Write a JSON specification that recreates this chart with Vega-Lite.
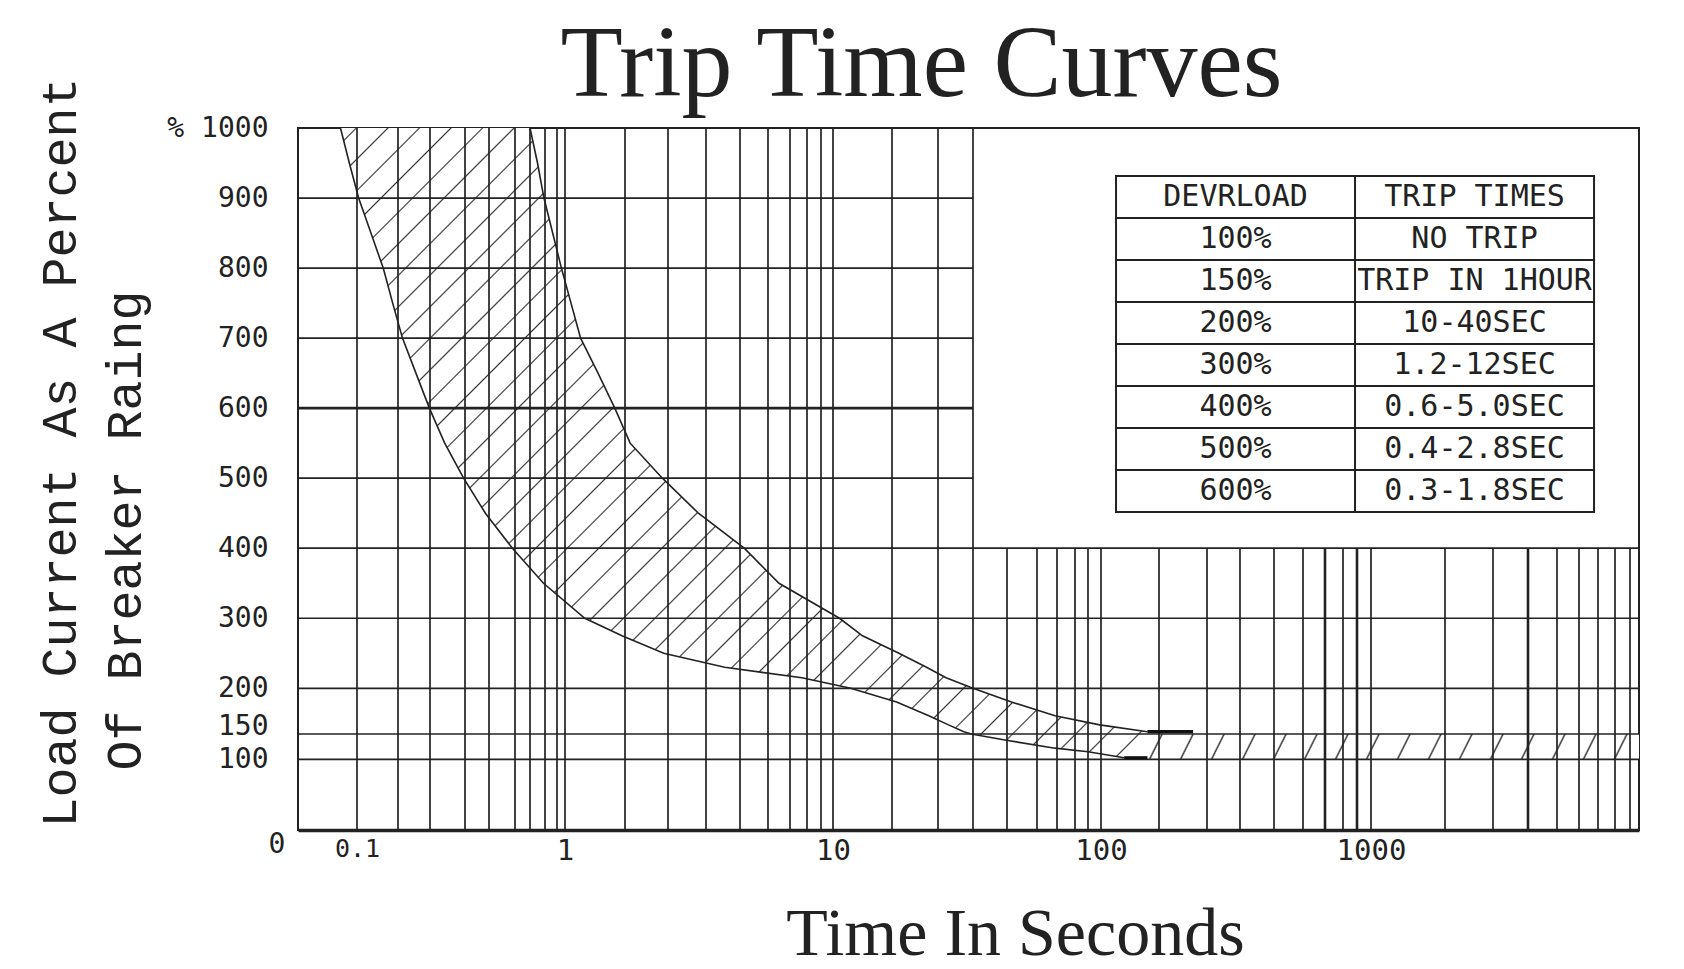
{
"$schema": "https://vega.github.io/schema/vega-lite/v6.json",
"width": 1341,
"height": 702,
"autosize": {"type": "none"},
"padding": {"left": 298, "top": 128, "right": 45, "bottom": 139},
"background": "#ffffff",
"title": {"text": "Trip Time Curves", "font": "Liberation Serif", "fontSize": 102, "fontWeight": "normal", "color": "#222222", "anchor": "middle", "frame": "group", "dx": -47, "baseline": "alphabetic", "offset": -121},
"config": {
  "view": {"stroke": "#222222", "strokeWidth": 2},
  "axis": {"grid": false, "ticks": false, "tickSize": 0, "domain": false, "labelColor": "#222222", "titleColor": "#222222", "titleFontWeight": "normal", "labelFont": "DejaVu Sans Mono", "labelFlush": false, "labelOverlap": false}
},
"datasets": {
  "vgrid": [
    {"t":0.1,"lo":0,"hi":1000},{"t":0.2,"lo":0,"hi":1000},{"t":0.3,"lo":0,"hi":1000},{"t":0.4,"lo":0,"hi":1000},{"t":0.5,"lo":0,"hi":1000},{"t":0.6,"lo":0,"hi":1000},{"t":0.7,"lo":0,"hi":1000},{"t":0.8,"lo":0,"hi":1000},{"t":0.9,"lo":0,"hi":1000},
    {"t":1,"lo":0,"hi":1000},{"t":2,"lo":0,"hi":1000},{"t":3,"lo":0,"hi":1000},{"t":4,"lo":0,"hi":1000},{"t":5,"lo":0,"hi":1000},{"t":6,"lo":0,"hi":1000},{"t":7,"lo":0,"hi":1000},{"t":8,"lo":0,"hi":1000},{"t":9,"lo":0,"hi":1000},
    {"t":10,"lo":0,"hi":1000},{"t":20,"lo":0,"hi":1000},{"t":30,"lo":0,"hi":1000},{"t":40,"lo":0,"hi":1000},{"t":50,"lo":0,"hi":400},{"t":60,"lo":0,"hi":400},{"t":70,"lo":0,"hi":400},{"t":80,"lo":0,"hi":400},{"t":90,"lo":0,"hi":400},
    {"t":100,"lo":0,"hi":400},{"t":200,"lo":0,"hi":400},{"t":300,"lo":0,"hi":400},{"t":400,"lo":0,"hi":400},{"t":500,"lo":0,"hi":400},{"t":600,"lo":0,"hi":400},{"t":700,"lo":0,"hi":400},{"t":800,"lo":0,"hi":400},{"t":900,"lo":0,"hi":400},
    {"t":1000,"lo":0,"hi":400},{"t":2000,"lo":0,"hi":400},{"t":3000,"lo":0,"hi":400},{"t":4000,"lo":0,"hi":400},{"t":5000,"lo":0,"hi":400},{"t":6000,"lo":0,"hi":400},{"t":7000,"lo":0,"hi":400},{"t":8000,"lo":0,"hi":400},{"t":9000,"lo":0,"hi":400}
  ],
  "hgrid": [
    {"load":100,"from":0,"to":10000},{"load":150,"from":0,"to":10000},{"load":200,"from":0,"to":10000},{"load":300,"from":0,"to":10000},{"load":400,"from":0,"to":10000},
    {"load":500,"from":0,"to":40},{"load":600,"from":0,"to":40},{"load":700,"from":0,"to":40},{"load":800,"from":0,"to":40},{"load":900,"from":0,"to":40}
  ],
  "band": [
    {"load":1000,"tmin":0.072,"tmax":0.70},
    {"load":950,"tmin":0.087,"tmax":0.75},
    {"load":900,"tmin":0.104,"tmax":0.793},
    {"load":850,"tmin":0.134,"tmax":0.864},
    {"load":800,"tmin":0.164,"tmax":0.955},
    {"load":750,"tmin":0.187,"tmax":1.10},
    {"load":700,"tmin":0.214,"tmax":1.26},
    {"load":650,"tmin":0.256,"tmax":1.55},
    {"load":600,"tmin":0.298,"tmax":1.83},
    {"load":550,"tmin":0.342,"tmax":2.12},
    {"load":500,"tmin":0.396,"tmax":2.87},
    {"load":450,"tmin":0.485,"tmax":3.80},
    {"load":400,"tmin":0.59,"tmax":5.15},
    {"load":350,"tmin":0.79,"tmax":6.5},
    {"load":300,"tmin":1.33,"tmax":11.1},
    {"load":275,"tmin":1.95,"tmax":15},
    {"load":250,"tmin":2.9,"tmax":21.5},
    {"load":230,"tmin":4.55,"tmax":27.5},
    {"load":215,"tmin":7.7,"tmax":32.3},
    {"load":200,"tmin":13,"tmax":40},
    {"load":185,"tmin":21,"tmax":51.5},
    {"load":170,"tmin":28,"tmax":69},
    {"load":160,"tmin":33,"tmax":99},
    {"load":152.5,"tmin":37.4,"tmax":180},
    {"load":150,"tmin":39.5,"tmax":180},
    {"load":138,"tmin":49.4,"tmax":180},
    {"load":122,"tmin":69,"tmax":180},
    {"load":115,"tmin":90,"tmax":180},
    {"load":103,"tmin":140,"tmax":180}
  ],
  "overload": [{"t1":180,"t2":10000,"lo":100,"hi":150}],
  "flat": [{"t1":140,"t2":180,"load":103},{"t1":180,"t2":271,"load":152.5}],
  "table": [
    {"overload":"DEVRLOAD","trip":"TRIP TIMES"},
    {"overload":"100%","trip":"NO TRIP"},
    {"overload":"150%","trip":"TRIP IN 1HOUR"},
    {"overload":"200%","trip":"10-40SEC"},
    {"overload":"300%","trip":"1.2-12SEC"},
    {"overload":"400%","trip":"0.6-5.0SEC"},
    {"overload":"500%","trip":"0.4-2.8SEC"},
    {"overload":"600%","trip":"0.3-1.8SEC"}
  ]
},
"layer": [
  {"layer": [
    {"data": {"name": "band"},
     "mark": {"type": "area", "orient": "horizontal",
       "fill": {"gradient": "linear", "x1": 0, "y1": 0, "x2": 1.12, "y2": 0.874, "stops": [
{"offset":0.0098,"color":"#ffffff"},{"offset":0.0109,"color":"#333333"},{"offset":0.0120,"color":"#ffffff"},
{"offset":0.0315,"color":"#ffffff"},{"offset":0.0326,"color":"#333333"},{"offset":0.0337,"color":"#ffffff"},
{"offset":0.0532,"color":"#ffffff"},{"offset":0.0543,"color":"#333333"},{"offset":0.0554,"color":"#ffffff"},
{"offset":0.0749,"color":"#ffffff"},{"offset":0.0760,"color":"#333333"},{"offset":0.0771,"color":"#ffffff"},
{"offset":0.0966,"color":"#ffffff"},{"offset":0.0977,"color":"#333333"},{"offset":0.0988,"color":"#ffffff"},
{"offset":0.1183,"color":"#ffffff"},{"offset":0.1194,"color":"#333333"},{"offset":0.1205,"color":"#ffffff"},
{"offset":0.1400,"color":"#ffffff"},{"offset":0.1411,"color":"#333333"},{"offset":0.1422,"color":"#ffffff"},
{"offset":0.1617,"color":"#ffffff"},{"offset":0.1628,"color":"#333333"},{"offset":0.1639,"color":"#ffffff"},
{"offset":0.1834,"color":"#ffffff"},{"offset":0.1845,"color":"#333333"},{"offset":0.1856,"color":"#ffffff"},
{"offset":0.2051,"color":"#ffffff"},{"offset":0.2062,"color":"#333333"},{"offset":0.2073,"color":"#ffffff"},
{"offset":0.2268,"color":"#ffffff"},{"offset":0.2279,"color":"#333333"},{"offset":0.2290,"color":"#ffffff"},
{"offset":0.2485,"color":"#ffffff"},{"offset":0.2496,"color":"#333333"},{"offset":0.2507,"color":"#ffffff"},
{"offset":0.2702,"color":"#ffffff"},{"offset":0.2713,"color":"#333333"},{"offset":0.2724,"color":"#ffffff"},
{"offset":0.2919,"color":"#ffffff"},{"offset":0.2930,"color":"#333333"},{"offset":0.2941,"color":"#ffffff"},
{"offset":0.3136,"color":"#ffffff"},{"offset":0.3147,"color":"#333333"},{"offset":0.3158,"color":"#ffffff"},
{"offset":0.3353,"color":"#ffffff"},{"offset":0.3364,"color":"#333333"},{"offset":0.3375,"color":"#ffffff"},
{"offset":0.3570,"color":"#ffffff"},{"offset":0.3581,"color":"#333333"},{"offset":0.3592,"color":"#ffffff"},
{"offset":0.3787,"color":"#ffffff"},{"offset":0.3798,"color":"#333333"},{"offset":0.3809,"color":"#ffffff"},
{"offset":0.4004,"color":"#ffffff"},{"offset":0.4015,"color":"#333333"},{"offset":0.4026,"color":"#ffffff"},
{"offset":0.4221,"color":"#ffffff"},{"offset":0.4232,"color":"#333333"},{"offset":0.4243,"color":"#ffffff"},
{"offset":0.4438,"color":"#ffffff"},{"offset":0.4449,"color":"#333333"},{"offset":0.4460,"color":"#ffffff"},
{"offset":0.4655,"color":"#ffffff"},{"offset":0.4666,"color":"#333333"},{"offset":0.4677,"color":"#ffffff"},
{"offset":0.4872,"color":"#ffffff"},{"offset":0.4883,"color":"#333333"},{"offset":0.4894,"color":"#ffffff"},
{"offset":0.5089,"color":"#ffffff"},{"offset":0.5100,"color":"#333333"},{"offset":0.5111,"color":"#ffffff"},
{"offset":0.5306,"color":"#ffffff"},{"offset":0.5317,"color":"#333333"},{"offset":0.5328,"color":"#ffffff"},
{"offset":0.5523,"color":"#ffffff"},{"offset":0.5534,"color":"#333333"},{"offset":0.5545,"color":"#ffffff"},
{"offset":0.5740,"color":"#ffffff"},{"offset":0.5751,"color":"#333333"},{"offset":0.5762,"color":"#ffffff"},
{"offset":0.5957,"color":"#ffffff"},{"offset":0.5968,"color":"#333333"},{"offset":0.5979,"color":"#ffffff"},
{"offset":0.6174,"color":"#ffffff"},{"offset":0.6185,"color":"#333333"},{"offset":0.6196,"color":"#ffffff"},
{"offset":0.6391,"color":"#ffffff"},{"offset":0.6402,"color":"#333333"},{"offset":0.6413,"color":"#ffffff"},
{"offset":0.6608,"color":"#ffffff"},{"offset":0.6619,"color":"#333333"},{"offset":0.6630,"color":"#ffffff"},
{"offset":0.6825,"color":"#ffffff"},{"offset":0.6836,"color":"#333333"},{"offset":0.6847,"color":"#ffffff"},
{"offset":0.7042,"color":"#ffffff"},{"offset":0.7053,"color":"#333333"},{"offset":0.7064,"color":"#ffffff"},
{"offset":0.7259,"color":"#ffffff"},{"offset":0.7270,"color":"#333333"},{"offset":0.7281,"color":"#ffffff"},
{"offset":0.7476,"color":"#ffffff"},{"offset":0.7487,"color":"#333333"},{"offset":0.7498,"color":"#ffffff"},
{"offset":0.7693,"color":"#ffffff"},{"offset":0.7704,"color":"#333333"},{"offset":0.7715,"color":"#ffffff"},
{"offset":0.7910,"color":"#ffffff"},{"offset":0.7921,"color":"#333333"},{"offset":0.7932,"color":"#ffffff"},
{"offset":0.8127,"color":"#ffffff"},{"offset":0.8138,"color":"#333333"},{"offset":0.8149,"color":"#ffffff"},
{"offset":0.8344,"color":"#ffffff"},{"offset":0.8355,"color":"#333333"},{"offset":0.8366,"color":"#ffffff"},
{"offset":0.8561,"color":"#ffffff"},{"offset":0.8572,"color":"#333333"},{"offset":0.8583,"color":"#ffffff"},
{"offset":0.8778,"color":"#ffffff"},{"offset":0.8789,"color":"#333333"},{"offset":0.8800,"color":"#ffffff"},
{"offset":0.8995,"color":"#ffffff"},{"offset":0.9006,"color":"#333333"},{"offset":0.9017,"color":"#ffffff"},
{"offset":0.9212,"color":"#ffffff"},{"offset":0.9223,"color":"#333333"},{"offset":0.9234,"color":"#ffffff"},
{"offset":0.9429,"color":"#ffffff"},{"offset":0.9440,"color":"#333333"},{"offset":0.9451,"color":"#ffffff"},
{"offset":0.9646,"color":"#ffffff"},{"offset":0.9657,"color":"#333333"},{"offset":0.9668,"color":"#ffffff"},
{"offset":0.9863,"color":"#ffffff"},{"offset":0.9874,"color":"#333333"},{"offset":0.9885,"color":"#ffffff"}
       ]}},
     "encoding": {
       "y": {"field": "load", "type": "quantitative",
         "scale": {"type": "linear", "domain": [0, 100, 150, 200, 1000], "range": [702, 631.3, 606, 560.3, 0], "nice": false, "zero": false},
         "axis": {"values": [0, 100, 150, 200, 300, 400, 500, 600, 700, 800, 900, 1000],
           "labelExpr": "datum.value == 1000 ? '% 1000' : '' + datum.value",
           "labelFontSize": 28,
           "labelPadding": 30,
           "labelAlign": {"condition": {"test": "datum.value == 0", "value": "left"}, "value": "right"},
           "labelBaseline": {"condition": [{"test": "datum.value == 0", "value": "top"}, {"test": "datum.value == 150", "value": "alphabetic"}], "value": "middle"},
           "title": "Load Current As A Percent",
           "titleFont": "Liberation Mono", "titleFontSize": 50, "titleAngle": 270, "titleAlign": "center", "titleBaseline": "alphabetic",
           "titleX": -223, "titleY": 324}},
       "x": {"field": "tmin", "type": "quantitative",
         "scale": {"type": "linear",
           "domain": [0, 0.1, 0.2, 0.3, 0.4, 0.5, 0.6, 0.7, 0.8, 0.9, 1, 2, 3, 4, 5, 6, 7, 8, 9, 10, 20, 30, 40, 50, 60, 70, 80, 90, 100, 200, 300, 400, 500, 600, 700, 800, 900, 1000, 2000, 3000, 4000, 5000, 6000, 7000, 8000, 9000, 10000],
           "range": [0, 59, 100, 132, 167, 191, 217, 232, 247, 259, 267, 327, 370, 408, 442, 470, 492, 509, 523, 535, 594, 640, 675, 709, 739, 759, 777, 790, 803, 861, 909, 942, 976, 1005, 1027, 1045, 1059, 1073, 1147, 1195, 1230, 1259, 1281, 1300, 1317, 1332, 1341],
           "nice": false, "zero": false},
         "axis": {"values": [0.1, 1, 10, 100, 1000],
           "labelExpr": "'' + datum.value",
           "labelFontSize": {"condition": {"test": "datum.value < 0.5", "value": 25}, "value": 29},
           "labelPadding": 6, "domain": true, "domainColor": "#222222", "domainWidth": 3.5,
           "title": "Time In Seconds", "titleFont": "Liberation Serif", "titleFontSize": 68,
           "titleX": 717, "titleY": 124, "titleAlign": "center", "titleBaseline": "alphabetic"}},
       "x2": {"field": "tmax"}
     }},
    {"data": {"name": "overload"},
     "mark": {"type": "rect",
       "fill": {"gradient": "linear", "x1": 0, "y1": 0, "x2": 1, "y2": 0.0257, "stops": [
{"offset":0.0267,"color":"#ffffff"},{"offset":0.0300,"color":"#333333"},{"offset":0.0333,"color":"#ffffff"},
{"offset":0.0897,"color":"#ffffff"},{"offset":0.0930,"color":"#333333"},{"offset":0.0963,"color":"#ffffff"},
{"offset":0.1527,"color":"#ffffff"},{"offset":0.1560,"color":"#333333"},{"offset":0.1593,"color":"#ffffff"},
{"offset":0.2157,"color":"#ffffff"},{"offset":0.2190,"color":"#333333"},{"offset":0.2223,"color":"#ffffff"},
{"offset":0.2787,"color":"#ffffff"},{"offset":0.2820,"color":"#333333"},{"offset":0.2853,"color":"#ffffff"},
{"offset":0.3417,"color":"#ffffff"},{"offset":0.3450,"color":"#333333"},{"offset":0.3483,"color":"#ffffff"},
{"offset":0.4047,"color":"#ffffff"},{"offset":0.4080,"color":"#333333"},{"offset":0.4113,"color":"#ffffff"},
{"offset":0.4677,"color":"#ffffff"},{"offset":0.4710,"color":"#333333"},{"offset":0.4743,"color":"#ffffff"},
{"offset":0.5307,"color":"#ffffff"},{"offset":0.5340,"color":"#333333"},{"offset":0.5373,"color":"#ffffff"},
{"offset":0.5937,"color":"#ffffff"},{"offset":0.5970,"color":"#333333"},{"offset":0.6003,"color":"#ffffff"},
{"offset":0.6567,"color":"#ffffff"},{"offset":0.6600,"color":"#333333"},{"offset":0.6633,"color":"#ffffff"},
{"offset":0.7197,"color":"#ffffff"},{"offset":0.7230,"color":"#333333"},{"offset":0.7263,"color":"#ffffff"},
{"offset":0.7827,"color":"#ffffff"},{"offset":0.7860,"color":"#333333"},{"offset":0.7893,"color":"#ffffff"},
{"offset":0.8457,"color":"#ffffff"},{"offset":0.8490,"color":"#333333"},{"offset":0.8523,"color":"#ffffff"},
{"offset":0.9087,"color":"#ffffff"},{"offset":0.9120,"color":"#333333"},{"offset":0.9153,"color":"#ffffff"},
{"offset":0.9717,"color":"#ffffff"},{"offset":0.9750,"color":"#333333"},{"offset":0.9783,"color":"#ffffff"}
       ]}},
     "encoding": {
       "x": {"field": "t1", "type": "quantitative"}, "x2": {"field": "t2"},
       "y": {"field": "lo", "type": "quantitative"}, "y2": {"field": "hi"}
     }},
    {"data": {"name": "vgrid"},
     "mark": {"type": "rule", "color": "#222222"},
     "encoding": {
       "x": {"field": "t", "type": "quantitative"},
       "y": {"field": "lo", "type": "quantitative"}, "y2": {"field": "hi"},
       "strokeWidth": {"condition": {"test": "datum.t == 700 || datum.t == 900 || datum.t == 4000", "value": 2.6}, "value": 1.7}
     }},
    {"data": {"name": "hgrid"},
     "mark": {"type": "rule", "color": "#222222"},
     "encoding": {
       "y": {"field": "load", "type": "quantitative"},
       "x": {"field": "from", "type": "quantitative"}, "x2": {"field": "to"},
       "strokeWidth": {"condition": {"test": "datum.load == 600", "value": 2.8}, "value": 1.7}
     }},
    {"data": {"name": "band"},
     "mark": {"type": "line", "color": "#222222", "strokeWidth": 1.6},
     "encoding": {
       "x": {"field": "tmin", "type": "quantitative"},
       "y": {"field": "load", "type": "quantitative"}
     }},
    {"data": {"name": "band"},
     "transform": [{"filter": "datum.load >= 152.5"}],
     "mark": {"type": "line", "color": "#222222", "strokeWidth": 1.6},
     "encoding": {
       "x": {"field": "tmax", "type": "quantitative"},
       "y": {"field": "load", "type": "quantitative"}
     }},
    {"data": {"name": "flat"},
     "mark": {"type": "rule", "color": "#111111", "strokeWidth": 3.2},
     "encoding": {
       "x": {"field": "t1", "type": "quantitative"}, "x2": {"field": "t2"},
       "y": {"field": "load", "type": "quantitative"}
     }}
  ]},
  {"data": {"name": "table"},
   "transform": [{"fold": ["overload", "trip"], "as": ["column", "cell"]}],
   "encoding": {
     "y": {"field": "overload", "type": "nominal",
       "scale": {"type": "band", "domain": ["_0", "DEVRLOAD","100%","150%","200%","300%","400%","500%","600%","_9","_10","_11","_12","_13","_14","_15"], "paddingInner": 0, "paddingOuter": 0.3571, "align": 0.2},
       "axis": {"orient": "left", "labels": false, "ticks": false, "domain": false, "grid": false,
         "title": "Of Breaker Raing", "titleFont": "Liberation Mono", "titleFontSize": 50, "titleAngle": 270,
         "titleAlign": "center", "titleBaseline": "alphabetic", "titleX": -158, "titleY": 402}},
     "x": {"field": "column", "type": "nominal", "axis": null,
       "scale": {"type": "band", "domain": ["_a", "_b", "_c", "overload", "trip"], "paddingInner": 0, "paddingOuter": 0.3054, "align": 0.692}}
   },
   "layer": [
     {"mark": {"type": "rect", "fill": "#ffffff", "stroke": "#222222", "strokeWidth": 2}},
     {"mark": {"type": "text", "font": "DejaVu Sans Mono", "fontSize": 30, "color": "#222222"},
      "encoding": {"text": {"field": "cell"}}}
   ]}
],
"resolve": {"scale": {"x": "independent", "y": "independent"}}
}
